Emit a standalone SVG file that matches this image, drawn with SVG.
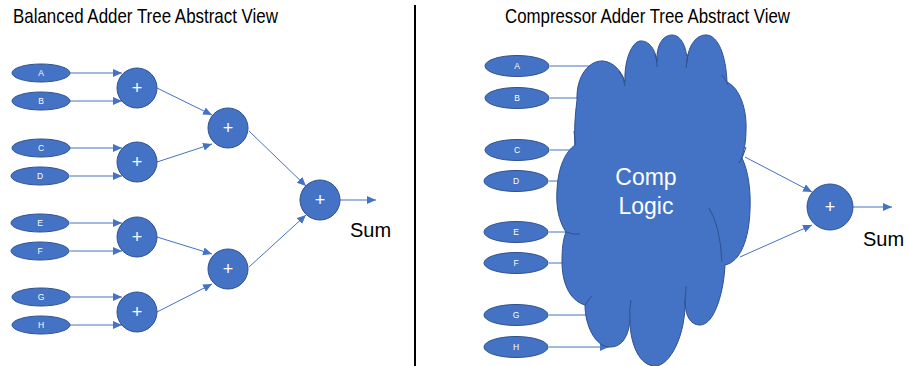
<svg xmlns="http://www.w3.org/2000/svg" width="908" height="366" viewBox="0 0 908 366">
<style>
.in{fill:#4472C4;stroke:#2F528F;stroke-width:1}
.add{fill:#4472C4;stroke:#2F528F;stroke-width:1}
.lbl{font-family:"Liberation Sans",Arial,sans-serif;font-size:8.5px;fill:#fff;text-anchor:middle}
.plus{font-family:"Liberation Sans",Arial,sans-serif;font-size:18px;fill:#fff;text-anchor:middle}
.ttl{font-family:"Liberation Sans",Arial,sans-serif;font-size:21px;fill:#000}
.sum{font-family:"Liberation Sans",Arial,sans-serif;font-size:20px;fill:#000}
.ln{stroke:#4472C4;stroke-width:1;fill:none}
.ar{stroke:#4472C4;stroke-width:1;fill:none;marker-end:url(#ah)}
.inner{stroke:#2F528F;stroke-width:1;fill:none}
</style>
<defs>
<marker id="ah" markerUnits="userSpaceOnUse" markerWidth="10" markerHeight="10" refX="9" refY="4" orient="auto">
<path d="M0,0 L9,4 L0,8 Z" fill="#4472C4"/>
</marker>
</defs>
<rect width="908" height="366" fill="#fff"/>
<text class="ttl" x="13" y="23" textLength="265" lengthAdjust="spacingAndGlyphs">Balanced Adder Tree Abstract View</text>
<text class="ttl" x="505" y="23" textLength="285" lengthAdjust="spacingAndGlyphs">Compressor Adder Tree Abstract View</text>
<line x1="415" y1="5" x2="415" y2="366" stroke="#000" stroke-width="2"/>

<g id="connectors">
<line class="ar" x1="70" y1="73" x2="122" y2="73"/>
<line class="ar" x1="70" y1="101" x2="122" y2="101"/>
<line class="ar" x1="70" y1="148" x2="122" y2="148"/>
<line class="ar" x1="70" y1="176" x2="122" y2="176"/>
<line class="ar" x1="70" y1="223" x2="122" y2="223"/>
<line class="ar" x1="70" y1="251" x2="122" y2="251"/>
<line class="ar" x1="70" y1="297" x2="122" y2="297"/>
<line class="ar" x1="70" y1="325" x2="122" y2="325"/>
<line class="ar" x1="157" y1="88" x2="212" y2="115"/>
<line class="ar" x1="157" y1="162" x2="212" y2="144"/>
<line class="ar" x1="157" y1="237" x2="212" y2="254"/>
<line class="ar" x1="157" y1="312" x2="212" y2="284"/>
<line class="ar" x1="249" y1="131" x2="306" y2="186"/>
<line class="ar" x1="249" y1="267" x2="306" y2="215"/>
<line class="ar" x1="340" y1="200" x2="376" y2="200"/>
<line class="ln" x1="550" y1="66" x2="610" y2="66"/>
<line class="ln" x1="550" y1="98" x2="600" y2="98"/>
<line class="ln" x1="550" y1="150" x2="600" y2="150"/>
<line class="ln" x1="549" y1="181" x2="600" y2="181"/>
<line class="ln" x1="549" y1="232" x2="600" y2="232"/>
<line class="ln" x1="549" y1="263" x2="600" y2="263"/>
<line class="ln" x1="549" y1="315" x2="600" y2="315"/>
<line class="ar" x1="549" y1="347" x2="609" y2="347"/>
<line class="ar" x1="745" y1="157" x2="812" y2="192"/>
<line class="ar" x1="740" y1="257" x2="812" y2="225"/>
<line class="ar" x1="853" y1="207" x2="892" y2="207"/>
</g>

<g id="inA"><ellipse class="in" cx="41" cy="73" rx="29" ry="9"/><text class="lbl" x="41" y="76">A</text></g>
<g id="inB"><ellipse class="in" cx="41" cy="101" rx="29" ry="9"/><text class="lbl" x="41" y="104">B</text></g>
<g id="inC"><ellipse class="in" cx="41" cy="148" rx="29" ry="9"/><text class="lbl" x="41" y="151">C</text></g>
<g id="inD"><ellipse class="in" cx="40" cy="176" rx="29" ry="9"/><text class="lbl" x="40" y="179">D</text></g>
<g id="inE"><ellipse class="in" cx="40" cy="223" rx="29" ry="9"/><text class="lbl" x="40" y="226">E</text></g>
<g id="inF"><ellipse class="in" cx="40" cy="251" rx="29" ry="9"/><text class="lbl" x="40" y="254">F</text></g>
<g id="inG"><ellipse class="in" cx="41" cy="297" rx="29" ry="9"/><text class="lbl" x="41" y="300">G</text></g>
<g id="inH"><ellipse class="in" cx="41" cy="325" rx="29" ry="9"/><text class="lbl" x="41" y="328">H</text></g>

<g id="add1"><circle class="add" cx="137" cy="88" r="20"/><text class="plus" x="137" y="94">+</text></g>
<g id="add2"><circle class="add" cx="137" cy="162" r="20"/><text class="plus" x="137" y="168">+</text></g>
<g id="add3"><circle class="add" cx="137" cy="237" r="20"/><text class="plus" x="137" y="243">+</text></g>
<g id="add4"><circle class="add" cx="137" cy="312" r="20"/><text class="plus" x="137" y="318">+</text></g>
<g id="add5"><circle class="add" cx="228" cy="128" r="20"/><text class="plus" x="228" y="134">+</text></g>
<g id="add6"><circle class="add" cx="228" cy="269" r="20"/><text class="plus" x="228" y="275">+</text></g>
<g id="add7"><circle class="add" cx="320" cy="200" r="20"/><text class="plus" x="320" y="206">+</text></g>
<g id="sumL"><text class="sum" x="350" y="237">Sum</text></g>

<g id="rA"><ellipse class="in" cx="517" cy="66" rx="32" ry="10.5"/><text class="lbl" x="517" y="69">A</text></g>
<g id="rB"><ellipse class="in" cx="517" cy="98" rx="32" ry="10.5"/><text class="lbl" x="517" y="101">B</text></g>
<g id="rC"><ellipse class="in" cx="517" cy="150" rx="32" ry="10.5"/><text class="lbl" x="517" y="153">C</text></g>
<g id="rD"><ellipse class="in" cx="516" cy="181" rx="32" ry="10.5"/><text class="lbl" x="516" y="184">D</text></g>
<g id="rE"><ellipse class="in" cx="516" cy="232" rx="32" ry="10.5"/><text class="lbl" x="516" y="235">E</text></g>
<g id="rF"><ellipse class="in" cx="516" cy="263" rx="32" ry="10.5"/><text class="lbl" x="516" y="266">F</text></g>
<g id="rG"><ellipse class="in" cx="516" cy="315" rx="32" ry="10.5"/><text class="lbl" x="516" y="318">G</text></g>
<g id="rH"><ellipse class="in" cx="516" cy="347" rx="32" ry="10.5"/><text class="lbl" x="516" y="350">H</text></g>

<g id="cloud">
<path fill="#4472C4" stroke="#2F528F" stroke-width="1" d="M577 100 C576 75 590 60 603 61 C614 62 622 72 625 82 C624 60 632 42 640 41 C649 40 656 50 657 62 C656 45 663 35 672 35 C681 35 687 47 687 62 C688 45 697 34 707 35 C718 36 726 55 727 82 C740 88 747 110 746 130 C746 142 744 150 742 158 C748 170 751 190 750 210 C749 240 740 262 725 265 C724 290 715 325 700 325 C690 325 685 315 685 300 C686 335 670 366 655 366 C640 366 630 345 630 320 C628 340 620 347 610 347 C595 347 585 325 585 305 C568 300 562 280 562 262 C562 248 563 240 566 232 C558 220 556 205 557 190 C558 168 565 152 575 145 C574 130 575 115 577 100 Z"/>
<path class="inner" d="M619 71 Q624 77 625 86"/>
<path class="inner" d="M655 54 Q657 60 657 67"/>
<path class="inner" d="M688 54 Q687 60 686 68"/>
<path class="inner" d="M722 75 Q726 79 728 85"/>
<path class="inner" d="M746 147 Q744 155 739 163"/>
<path class="inner" d="M709 208 Q720 225 722 262"/>
<path class="inner" d="M685 300 Q686 292 686 286"/>
<path class="inner" d="M630 320 Q629 310 631 300"/>
<path class="inner" d="M585 305 Q588 300 592 296"/>
<path class="inner" d="M566 232 Q573 235 580 234"/>
<path class="inner" d="M575 145 Q575 138 574 131"/>
<text font-family="'Liberation Sans',Arial,sans-serif" font-size="23" fill="#fff" text-anchor="middle" x="646" y="185">Comp</text>
<text font-family="'Liberation Sans',Arial,sans-serif" font-size="23" fill="#fff" text-anchor="middle" x="646" y="214">Logic</text>
</g>

<g id="addR"><circle class="add" cx="830" cy="207" r="23"/><text class="plus" x="830" y="213">+</text></g>
<g id="sumR"><text class="sum" x="863" y="246">Sum</text></g>
</svg>
